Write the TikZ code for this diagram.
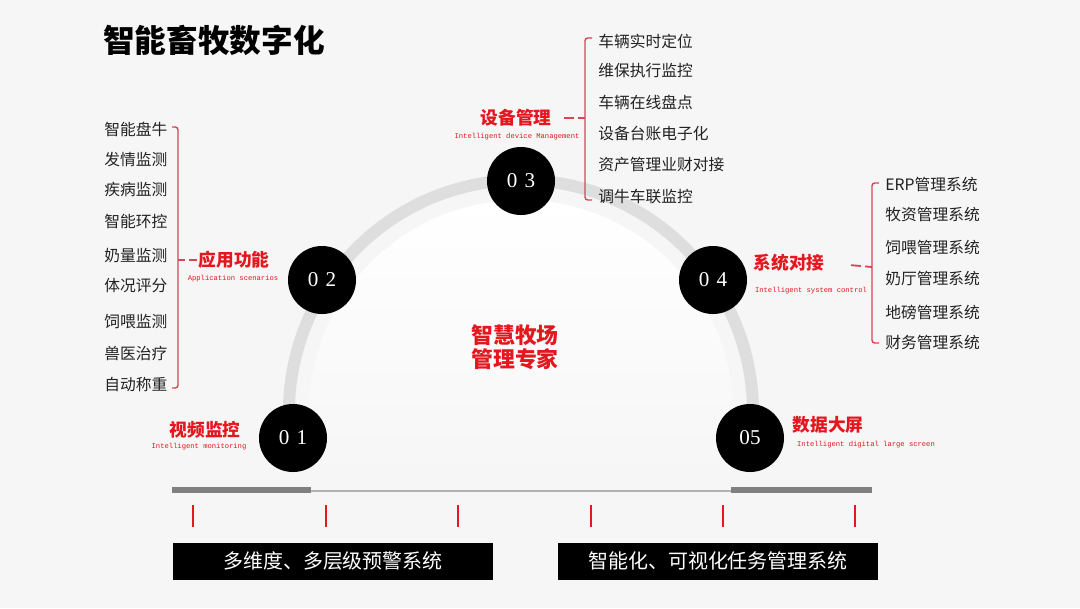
\documentclass[tikz,border=0pt]{standalone}
\usepackage{fontspec}
\setmainfont{Noto Sans CJK SC}
\newfontfamily\numfont{Liberation Serif}
\newfontfamily\engfont{Liberation Mono}
\usetikzlibrary{positioning,calc}
\definecolor{farmred}{RGB}{228,22,30}
\definecolor{brkred}{RGB}{214,70,88}
\definecolor{farmbg}{RGB}{246,246,246}
\definecolor{arcgray}{RGB}{222,222,222}
\definecolor{bargray}{RGB}{128,128,128}
\definecolor{txtgray}{RGB}{34,34,34}
\tikzset{
  stage/.style={circle, fill=black, minimum size=1.7cm, inner sep=0pt,
                text=white, font=\numfont\fontsize{15}{15}\selectfont},
  head/.style={font=\bfseries\fontsize{12.6}{13}\selectfont, text=farmred, inner sep=1pt},
  sub/.style={font=\engfont\fontsize{5.1}{6}\selectfont, text=farmred, inner sep=0pt},
  item/.style={font=\fontsize{11.2}{12}\selectfont, text=txtgray, anchor=west, inner sep=0pt},
  brk/.style={brkred, line width=1pt, rounded corners=2pt},
  lnk/.style={brkred, line width=1.3pt, dash pattern=on 5pt off 3pt on 7pt off 40pt},
  ringarc/.style={arcgray, line width=0.3cm},
  redtick/.style={farmred, line width=1.6pt},
  banner/.style={fill=black, text=white, minimum width=8cm, minimum height=0.925cm,
                 inner sep=0pt, font=\fontsize{14.2}{15}\selectfont},
}

\begin{document}
\begin{tikzpicture}[x=0.025cm, y=-0.025cm]
  \useasboundingbox (0,0) rectangle (1080,608);
  \fill[farmbg] (0,0) rectangle (1080,608);

  \node[anchor=west, font=\bfseries\fontsize{22.5}{24}\selectfont, inner sep=0pt] (title) at (103,40) {智能畜牧数字化};

  % ring
  \coordinate (hub) at (521,412);
  \shade[top color=white, bottom color=farmbg] (hub) ++(180:212) arc[start angle=180, end angle=360, radius=212] -- (733,480) -- (309,480) -- cycle;
  \draw[ringarc] (hub) ++(170:232) arc[start angle=170, end angle=370, radius=232];

  \node[stage] (s1) at (293,438) {0\,\,1};
  \node[stage] (s2) at (322,280) {0\,\,2};
  \node[stage] (s3) at (521,181) {0\,\,3};
  \node[stage] (s4) at (713,280) {0\,\,4};
  \node[stage] (s5) at (750,438) {05};

  \node[align=center, text=farmred, font=\bfseries\fontsize{15.5}{17}\selectfont] (core) at (515,347) {智慧牧场\\管理专家};

  % headings
  \node[head] (h1) at (205,430) {视频监控};
  \node[sub] (e1) at (199,447) {Intelligent monitoring};
  \node[head] (h2) at (234,260) {应用功能};
  \node[sub] (e2) at (233,279) {Application scenarios};
  \node[head] (h3) at (516,118) {设备管理};
  \node[sub] (e3) at (517,137) {Intelligent device Management};
  \node[head] (h4) at (789,263) {系统对接};
  \node[sub] (e4) at (811,291) {Intelligent system control};
  \node[head] (h5) at (828,425) {数据大屏};
  \node[sub] (e5) at (866,445) {Intelligent digital large screen};

  % left list
  \foreach \t/\y [count=\i] in {智能盘牛/129, 发情监测/159, 疾病监测/189, 智能环控/221,
      奶量监测/256, 体况评分/286, 饲喂监测/322, 兽医治疗/353, 自动称重/384}
    \node[item] (l\i) at (104,\y) {\t};
  \coordinate (lm) at (178,260);
  \draw[brk] (172,127) -| (178,388) -- (172,388);
  \draw[lnk] (lm) -- (h2.west);

  % top list
  \foreach \t/\y [count=\i] in {车辆实时定位/41, 维保执行监控/71, 车辆在线盘点/102,
      设备台账电子化/134, 资产管理业财对接/165, 调牛车联监控/197}
    \node[item] (t\i) at (598,\y) {\t};
  \coordinate (tm) at (585,118);
  \draw[brk] (592,38) -| (585,200) -- (592,200);
  \draw[lnk] (tm) -- (h3.east);

  % right list
  \foreach \t/\y [count=\i] in {ERP管理系统/184, 牧资管理系统/214, 饲喂管理系统/248,
      奶厅管理系统/278, 地磅管理系统/312, 财务管理系统/342}
    \node[item] (r\i) at (885,\y) {\t};
  \coordinate (rm) at (872,267);
  \draw[brk] (879,183) -| (872,343) -- (879,343);
  \draw[lnk] (rm) -- (h4.east);

  % base line
  \draw[bargray, line width=0.15cm] (172,490) -- (311,490);
  \draw[bargray, line width=0.15cm] (731,490) -- (872,490);
  \draw[gray!60, line width=1.2pt] (311,491) -- (731,491);
  \foreach \x in {193,326,458,591,723,855}
    \draw[redtick] (\x,505) -- (\x,527);

  \node[banner] (b1) at (333,561) {多维度、多层级预警系统};
  \node[banner] (b2) at (718,561) {智能化、可视化任务管理系统};
\end{tikzpicture}
\end{document}
